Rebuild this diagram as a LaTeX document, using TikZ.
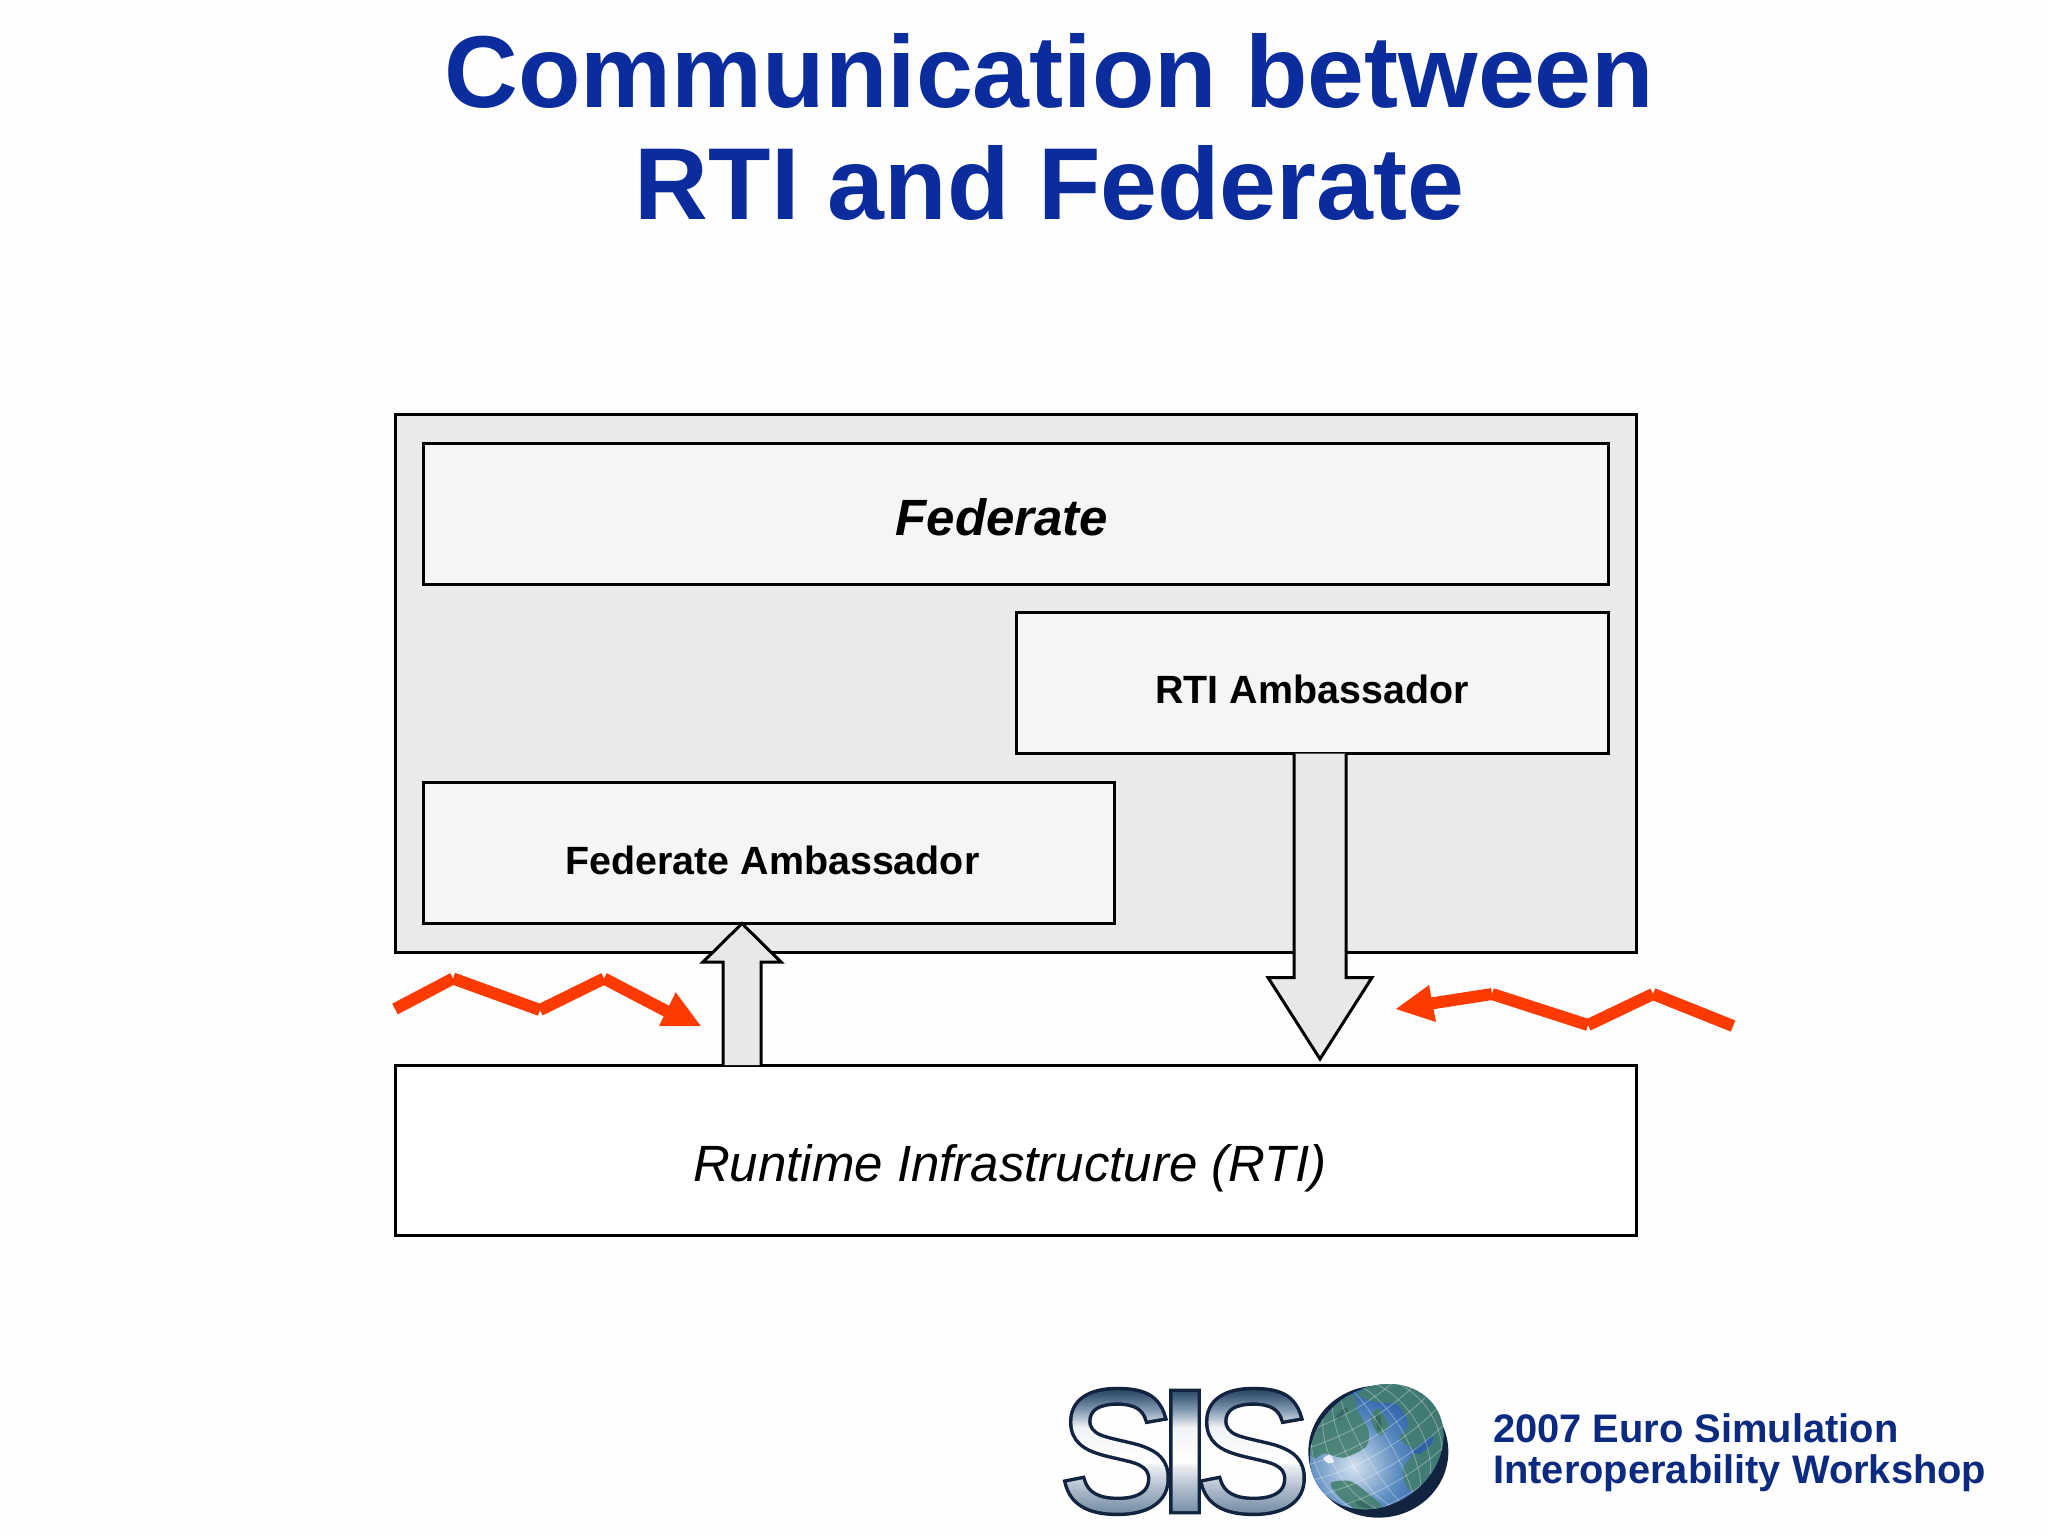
\documentclass[tikz,border=0pt]{standalone}
\usepackage{fontspec}
\setmainfont{Liberation Sans}
\newfontfamily\sisreg{Liberation Sans}
\newfontfamily\sisbold{Liberation Sans Bold}
\newfontfamily\sisregfat[FakeBold=4]{Liberation Sans}
\newfontfamily\sisboldfat[FakeBold=4]{Liberation Sans Bold}
\usetikzlibrary{calc}
\definecolor{titleblue}{HTML}{0A2C9C}
\definecolor{footblue}{HTML}{0B2A80}
\definecolor{outerfill}{HTML}{EBE9EC}
\definecolor{innerfill}{HTML}{F5F4F7}
\definecolor{arrowfill}{HTML}{E8E7EA}
\definecolor{redsig}{HTML}{FF3A00}
\definecolor{sisdark}{HTML}{12233F}
\definecolor{glowa}{HTML}{D4E1EF}
\definecolor{glowb}{HTML}{A5C0DC}
\definecolor{glowc}{HTML}{5C8CC0}
\definecolor{glowd}{HTML}{2F62AC}
\definecolor{glowe}{HTML}{1D3F82}
\definecolor{landgreen}{HTML}{457F6E}
\definecolor{landdark}{HTML}{2F5F58}
\definecolor{seadark}{HTML}{2E5DAE}
\definecolor{sa}{HTML}{1F3A5A}
\definecolor{sb}{HTML}{3F5B7A}
\definecolor{sc}{HTML}{8BA0B6}
\definecolor{sd}{HTML}{F0F3F6}
\definecolor{se}{HTML}{FFFFFF}
\definecolor{sf}{HTML}{E8ECF0}
\definecolor{sg}{HTML}{A8B8C8}
\definecolor{sh}{HTML}{6C859E}
\pgfdeclareverticalshading{sissteel}{100bp}{
  color(0bp)=(sh);
  color(25bp)=(sh);
  color(35bp)=(sg);
  color(44bp)=(sf);
  color(46bp)=(se);
  color(59bp)=(sd);
  color(65bp)=(sc);
  color(71bp)=(sb);
  color(75bp)=(sa);
  color(100bp)=(sa)}
\pgfdeclareradialshading{globeglow}{\pgfpointorigin}{
  color(0bp)=(glowa);
  color(4bp)=(glowb);
  color(10bp)=(glowc);
  color(17bp)=(glowd);
  color(25bp)=(glowe);
  color(50bp)=(glowe)}
\tikzset{
  box/.style={draw=black,line width=3pt,inner sep=0pt,outer sep=0pt,anchor=north west},
  blockarrow/.style={draw=black,line width=3pt,fill=arrowfill,miter limit=10},
  sigline/.style={draw=redsig,line width=12pt,line cap=butt},
  sighead/.style={fill=redsig,draw=none},
  lbl/.style={anchor=base,inner sep=0pt,text=black},
  foot/.style={anchor=base west,inner sep=0pt,text=footblue,font=\fontsize{39.85}{41}\selectfont\bfseries},
  sisnode/.style={anchor=base west,inner sep=0pt,outer sep=0pt},
  land/.style={fill=landgreen,fill opacity=.88,draw=none},
  gridline/.style={white,opacity=.33,line width=.8pt}
}
\newcommand{\sisword}[2]{\fontsize{173}{173}\selectfont\rlap{\kern-6pt#1{}S}\rlap{\kern96pt#2{}I}\rlap{\kern130pt#1{}S}}
\newcommand{\sisclipped}{\hbox to 242pt{\special{pdf:code q 7 Tr}\sisword{\sisreg}{\sisbold}\special{pdf:code 0 Tr}\rlap{\begin{tikzpicture}[x=1pt,y=1pt,baseline=0pt]\useasboundingbox (0,0);\shade[shading=sissteel] (-10,-6) rectangle (250,126);\end{tikzpicture}}\special{pdf:code Q}\hfil}}
\begin{document}
\begin{tikzpicture}[x=1pt,y=-1pt]
\fill[white!99.5!black] (0,0) rectangle (2048,1536);
\useasboundingbox (0,0) rectangle (2048,1536);

% title
\node[anchor=base,inner sep=0pt,text=titleblue,font=\fontsize{102.2}{110}\selectfont\bfseries] (title1) at (1049.5,108) {Communication between};
\node[anchor=base,inner sep=0pt,text=titleblue,font=\fontsize{102.2}{110}\selectfont\bfseries] (title2) at (1049.5,219) {RTI and Federate};

% boxes
\node[box,fill=outerfill,minimum width=1241pt,minimum height=537.5pt] (outer) at (395,414.5) {};
\node[box,fill=innerfill,minimum width=1185pt,minimum height=141pt] (federate) at (423,443) {};
\node[box,fill=innerfill,minimum width=592pt,minimum height=141pt] (rtiamb) at (1016,612.5) {};
\node[box,fill=innerfill,minimum width=691pt,minimum height=141.5pt] (fedamb) at (423,782) {};
\node[box,fill=white,minimum width=1241pt,minimum height=170pt] (rti) at (395,1065) {};

% labels
\node[lbl,font=\fontsize{51}{52}\selectfont\bfseries\itshape] (federatelbl) at (1002,535) {Federate};
\node[lbl,font=\fontsize{39.4}{41}\selectfont\bfseries] (rtiamblbl) at (1312,703) {RTI Ambassador};
\node[lbl,font=\fontsize{39.4}{41}\selectfont\bfseries] (fedamblbl) at (772.5,874) {Federate Ambassador};
\node[lbl,font=\fontsize{51}{53}\selectfont\itshape] (rtilbl) at (1010,1181) {Runtime Infrastructure (RTI)};

% block arrows
\coordinate (xUp) at (742,0);
\coordinate (xDn) at (1320,0);
\coordinate (upTip) at (fedamb.south -| xUp);
\coordinate (upBase) at (rti.north -| xUp);
\draw[blockarrow] (upBase) ++(-19,0) -- ++(0,-103) -- ++(-20,0) -- (upTip) -- ($(upBase)+(39,-103)$) -- ++(-20,0) -- ($(upBase)+(19,0)$);
\coordinate (dnTop) at (rtiamb.south -| xDn);
\coordinate (dnTip) at (1320,1059);
\draw[blockarrow] (dnTop) ++(-26,0) -- ++(0,224) -- ++(-26,0) -- (dnTip) -- ($(dnTop)+(52,224)$) -- ++(-26,0) -- ($(dnTop)+(26,0)$);

% left signal
\coordinate (la) at (395,1009);
\coordinate (lb) at (453,978.5);
\coordinate (lc) at (540,1010);
\coordinate (ld) at (604,978.5);
\coordinate (le) at (672,1014);
\coordinate (lf) at (700.7,1026);
\draw[sigline] (la) -- (lb);
\draw[sigline] (lb) -- (lc);
\draw[sigline] (lc) -- (ld);
\draw[sigline] (ld) -- (le);
\fill[sighead] (lf) -- (659,1026) -- (675.7,992.3) -- cycle;

% right signal
\coordinate (ra) at (1733,1026);
\coordinate (rb) at (1653,994);
\coordinate (rc) at (1588,1025);
\coordinate (rd) at (1492,994);
\coordinate (re) at (1428,1004);
\coordinate (rf) at (1396,1009);
\draw[sigline] (ra) -- (rb);
\draw[sigline] (rb) -- (rc);
\draw[sigline] (rc) -- (rd);
\draw[sigline] (rd) -- (re);
\fill[sighead] (rf) -- (1429,985) -- (1436,1022) -- cycle;

% SIS logo, outline layer
\coordinate (sisorigin) at (1065,1511);
\node[sisnode,text=sisdark] (sisback) at (sisorigin) {\hbox to 242pt{\sisword{\sisregfat}{\sisboldfat}\hfil}};

% footer text
\node[foot] (foot1) at (1493,1442) {2007 Euro Simulation};
\node[foot] (foot2) at (1493,1483) {Interoperability Workshop};

% SIS logo, steel letters: the letters clip a vertical gradient
\node[sisnode] (sisfront) at (sisorigin) {\sisclipped};

% globe
\begin{scope}[shift={(1300,1375)},x=.3333pt,y=-.3333pt]
  \fill[sisdark] (235,230) ellipse [x radius=210,y radius=198];
  \begin{scope}
    \clip[rotate around={35:(230,215)}] (230,215) ellipse [x radius=212,y radius=175];
    \shade[shading=globeglow] (160,275) circle (340);
    \fill[land] plot[smooth cycle] coordinates {(25,200) (50,130) (105,70) (165,62) (172,105) (205,165) (198,215) (130,248) (75,235) (40,250)};
    \fill[land] plot[smooth cycle] coordinates {(212,130) (235,100) (265,150) (238,180)};
    \fill[land] plot[smooth cycle] coordinates {(170,55) (240,25) (340,35) (420,110) (450,220) (420,340) (330,345) (308,285) (340,230) (298,190) (325,150) (292,90) (220,80)};
    \fill[land] plot[smooth cycle] coordinates {(92,325) (150,318) (200,352) (245,395) (190,412) (125,372)};
    \fill[landdark,fill opacity=.7] plot[smooth cycle] coordinates {(108,125) (135,98) (142,106) (118,135)};
    \fill[landdark,fill opacity=.7] plot[smooth cycle] coordinates {(228,120) (240,120) (245,160) (233,165)};
    \fill[landdark,fill opacity=.6] plot[smooth cycle] coordinates {(165,375) (205,385) (215,398) (180,395)};
    \fill[seadark,fill opacity=.85] plot[smooth cycle] coordinates {(340,228) (372,200) (398,182) (395,205) (360,236)};
    \fill[white,fill opacity=.8] plot[smooth cycle] coordinates {(70,250) (90,240) (102,260) (85,265)};
    \foreach \r in {40,90,140,190}{
      \draw[gridline,rotate around={30:(230,215)}] (230,215) ellipse [x radius=\r,y radius=215];
    }
    \foreach \o in {-160,-110,-60,-10,40,90,140}{
      \draw[gridline,rotate around={30:(230,215)}] (10,215+\o) .. controls (150,255+\o) and (310,255+\o) .. (450,215+\o);
    }
  \end{scope}
\end{scope}
\end{tikzpicture}
\end{document}
